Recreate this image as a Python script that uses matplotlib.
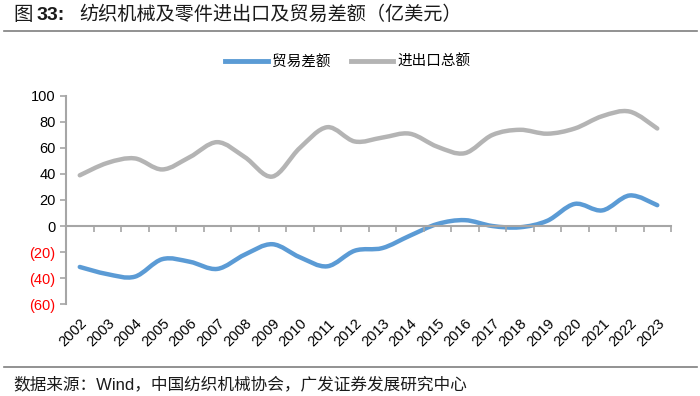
import matplotlib
matplotlib.use('Agg')
import matplotlib.pyplot as plt
from matplotlib.path import Path
from matplotlib.patches import PathPatch
from matplotlib.lines import Line2D
import numpy as np

plt.rcParams['font.family'] = ['Liberation Sans', 'Noto Sans CJK SC', 'DejaVu Sans']

years = [str(y) for y in range(2002, 2024)]
balance = [-31.5, -37, -39, -25.5, -27.5, -33, -22, -14, -24, -31, -19,
           -17, -7.5, 1.5, 4.5, 0, -1, 4, 17, 12, 23.5, 16]
total = [39, 48.5, 52, 43.5, 53, 64.5, 53, 38, 60, 76, 65,
         68, 71, 61, 56, 70, 74, 71, 75, 84.5, 88, 75]
yticks = [-60, -40, -20, 0, 20, 40, 60, 80, 100]

blue = '#5B9BD5'
grey = '#B4B4B4'
axis_col = '#A6A6A6'
cjk = ['Liberation Sans', 'Noto Sans CJK SC']

#-------------------------------------------------------------------------------
def smooth_path(xs, ys):
    # excel-style smoothed line: cubic bezier through every point
    pts = np.column_stack([xs, ys]).astype(float)
    n = len(pts)
    verts = [pts[0]]
    codes = [Path.MOVETO]
    for i in range(n - 1):
        p0 = pts[i - 1] if i > 0 else pts[i]
        p1 = pts[i]
        p2 = pts[i + 1]
        p3 = pts[i + 2] if i + 2 < n else pts[i + 1]
        c1 = p1 + (p2 - p0) / 6.0
        c2 = p2 - (p3 - p1) / 6.0
        verts += [c1, c2, p2]
        codes += [Path.CURVE4] * 3
    return Path(verts, codes)

fig = plt.figure(figsize=(7, 3.96), dpi=100)
ax = fig.add_axes([0.0943, 0.2323, 0.8643, 0.5253])

x = np.arange(len(years))
for vals, col in [(total, grey), (balance, blue)]:
    ax.add_patch(PathPatch(smooth_path(x, vals), facecolor='none', edgecolor=col,
                           lw=3.2, capstyle='round', joinstyle='round'))

ax.set_xlim(-0.5, len(years) - 0.5)
ax.set_ylim(-60, 100)

# y axis
ax.set_yticks(yticks)
ax.set_yticklabels(['(%d)' % -v if v < 0 else '%d' % v for v in yticks], fontsize=10.5)
for lab, v in zip(ax.get_yticklabels(), yticks):
    lab.set_color('red' if v < 0 else 'black')
ax.tick_params(axis='y', direction='out', length=4.5, width=1.2, color=axis_col, pad=3)

# x axis line at zero with ticks between categories
ax.spines['bottom'].set_position(('data', 0))
ax.set_xticks(np.arange(-0.5, len(years), 1.0))
ax.set_xticklabels([])
ax.tick_params(axis='x', direction='out', length=4, width=1.2, color=axis_col)
for s in ['top', 'right']:
    ax.spines[s].set_visible(False)
for s in ['left', 'bottom']:
    ax.spines[s].set_color(axis_col)
    ax.spines[s].set_linewidth(1.5)

sec = ax.secondary_xaxis('bottom')
sec.set_xticks(x)
sec.set_xticklabels(years, rotation=45, ha='right', rotation_mode='anchor', fontsize=10.5)
sec.tick_params(length=0, pad=9)
sec.spines['bottom'].set_visible(False)

# legend
handles = [Line2D([], [], color=blue, lw=3.5), Line2D([], [], color=grey, lw=3.5)]
fig.legend(handles, ['贸易差额', '进出口总额'], loc='center', bbox_to_anchor=(0.497, 0.843),
           ncol=2, frameon=False, handlelength=2.9, handletextpad=0.3, columnspacing=1.4,
           prop={'family': ['Noto Sans CJK SC'], 'size': 10.5})

# title in three pieces: 图 / 33: (bold) / rest
ty = 0.962
fig.text(13 / 700, ty, '图', fontsize=14, va='center', ha='left', color='#1a1a1a', family=cjk)
fig.text(37 / 700, ty, '33:', fontsize=14, fontweight='bold', va='center', ha='left',
         color='#1a1a1a', family=cjk)
fig.text(79 / 700, ty, '纺织机械及零件进出口及贸易差额（亿美元）', fontsize=13.8,
         va='center', ha='left', color='#1a1a1a', family=cjk)

fig.add_artist(Line2D([0.005, 0.995], [0.9217, 0.9217], transform=fig.transFigure,
                      color='#7f7f7f', lw=1.2))
fig.add_artist(Line2D([0.005, 0.995], [0.0732, 0.0732], transform=fig.transFigure,
                      color='#7f7f7f', lw=1.2))
fig.text(0.0186, 0.0303, '数据来源：Wind，中国纺织机械协会，广发证券发展研究中心', fontsize=12,
         va='center', ha='left', color='#1a1a1a', family=cjk)

plt.savefig('out.png', dpi=100)
